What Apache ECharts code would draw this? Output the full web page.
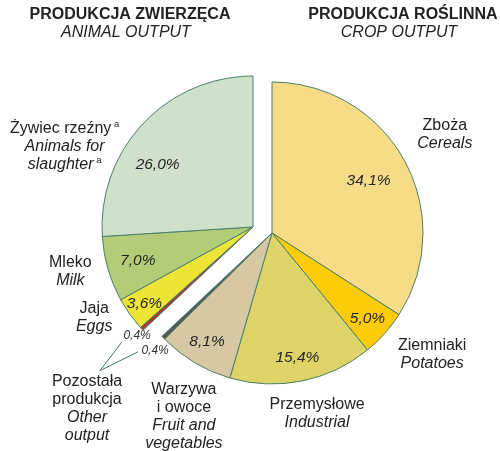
<!DOCTYPE html>
<html>
<head>
<meta charset="utf-8">
<title>Produkcja rolnicza</title>
<script src="https://cdn.jsdelivr.net/npm/echarts@6/dist/echarts.min.js"></script>
<style>
  html, body { margin: 0; padding: 0; background: #fff; }
  #chart { width: 500px; height: 451px; }
</style>
</head>
<body>
<div id="chart"></div>
<script>
  // produkcja roślinna - od góry zgodnie z ruchem wskazówek zegara
  var cropNames = ['Zboża', 'Ziemniaki', 'Przemysłowe', 'Warzywa\ni owoce', 'Pozostała\nprodukcja'];
  var cropNamesEn = ['Cereals', 'Potatoes', 'Industrial', 'Fruit and\nvegetables', 'Other\noutput'];
  var cropValues = [34.1, 5.0, 15.4, 8.1, 0.4];

  // produkcja zwierzęca
  var animalNames = ['Żywiec rzeźny', 'Mleko', 'Jaja', 'Pozostała\nprodukcja'];
  var animalNamesEn = ['Animals for\nslaughter', 'Milk', 'Eggs', 'Other\noutput'];
  var animalNotes = ['a', '', '', ''];
  var animalValues = [26.0, 7.0, 3.6, 0.4];

  var cropColors = ['#f6dc86', '#fccc08', '#dfd467', '#d7c7a2', '#525b54'];
  var animalColors = ['#cfe1cb', '#b3cc78', '#ece535', '#a23d33'];

  var FONT = '"Liberation Sans", Arial, sans-serif';
  var EDGE = '#4b7f6b';
  var R = 151;
  var cropCenter = [272, 233];
  var animalCenter = [253, 227];   // połówka odsunięta

  // polozenie etykiet [promien, poprawka kata]
  var cropPctPos = [[110, 0], [128, 0], [127, 0], [127, 0], [166, -1.3]];
  var cropNamePos = [[199, -1.1], [201, -4.6], [186, -2.5], [204, -5.2], null];
  var animalPctPos = [[114, -10], [120, 0], [133, 0], [159, -0.7]];
  var animalNamePos = [[205, -20], [188, 2.5], [183, 5.5], [246, -5.1]];

  function sum(arr) {
    return arr.reduce(function (a, b) { return a + b; }, 0);
  }
  var cropTotal = sum(cropValues);
  var animalTotal = sum(animalValues);
  var total = cropTotal + animalTotal;

  function filler(v) {
    return {
      value: v, name: '', isFiller: true,
      itemStyle: {color: 'rgba(0,0,0,0)', borderWidth: 0},
      label: {show: false}, labelLine: {show: false}
    };
  }

  // dane w kolejnosci rysowania (kat start 90, zgodnie z zegarem)
  var cropData = cropValues.map(function (v, i) {
    return {value: v, k: i, name: cropNames[i], itemStyle: {color: cropColors[i]}};
  });
  cropData.push(filler(animalTotal));

  var animalOrder = [3, 2, 1, 0];
  var animalData = [filler(cropTotal)].concat(animalOrder.map(function (k) {
    return {value: animalValues[k], k: k, name: animalNames[k], itemStyle: {color: animalColors[k]}};
  }));

  function midAngles(data) {
    var acc = 0;
    return data.map(function (d) {
      var a = (acc + d.value / 2) / total * 360;
      acc += d.value;
      return a;
    });
  }
  var cropMid = midAngles(cropData);
  var animalMid = midAngles(animalData);

  function polar(c, r, deg) {
    var a = deg * Math.PI / 180;
    return [c[0] + r * Math.sin(a), c[1] - r * Math.cos(a)];
  }

  function pctText(v) {
    return v.toFixed(1).replace('.', ',') + '%';
  }

  function nameText(pl, en, note) {
    var s = pl.split('\n').map(function (l) { return '{pl|' + l + '}'; });
    var e = en.split('\n').map(function (l) { return '{en|' + l + '}'; });
    if (note) {
      s[s.length - 1] += '{sup| ' + note + '}';
      e[e.length - 1] += '{sup| ' + note + '}';
    }
    return s.concat(e).join('\n');
  }

  var otherPos = polar(animalCenter, animalNamePos[3][0], animalMid[1] + animalNamePos[3][1]);
  var joinPoint = [otherPos[0] + 13, otherPos[1] - 38];

  function pctLayout(center, data, mids, pos, lineOffset) {
    return function (p) {
      var d = data[p.dataIndex];
      if (d.isFiller) return {};
      var ps = pos[d.k];
      var xy = polar(center, ps[0], mids[p.dataIndex] + ps[1]);
      var out = {x: xy[0], y: xy[1], align: 'center', verticalAlign: 'middle'};
      if (d.value < 1) {
        var s = [xy[0] + lineOffset[0], xy[1] + lineOffset[1]];
        out.labelLinePoints = [s, s, joinPoint];
      }
      return out;
    };
  }

  function nameLayout(center, data, mids, pos) {
    return function (p) {
      var d = data[p.dataIndex];
      if (d.isFiller || !pos[d.k]) return {};
      var xy = polar(center, pos[d.k][0], mids[p.dataIndex] + pos[d.k][1]);
      return {x: xy[0], y: xy[1], align: 'center', verticalAlign: 'middle'};
    };
  }

  var pctLabel = {
    show: true,
    position: 'inside',
    fontFamily: FONT,
    fontSize: 15.5,
    fontStyle: 'italic',
    color: '#262626',
    formatter: function (p) { return pctText(p.value); }
  };
  var smallPct = {
    label: {position: 'outside', fontSize: 12, color: '#333'},
    labelLine: {show: true, lineStyle: {color: '#3f7a70', width: 1}}
  };

  var nameRich = {
    pl: {fontFamily: FONT, fontSize: 16, color: '#222', lineHeight: 18},
    en: {fontFamily: FONT, fontSize: 16, fontStyle: 'italic', color: '#222', lineHeight: 18},
    sup: {fontFamily: FONT, fontSize: 9.5, color: '#222', lineHeight: 18, verticalAlign: 'top', padding: [0, 0, 6, 0]}
  };

  function pctData(data) {
    return data.map(function (d) {
      if (d.isFiller || d.value >= 1) return d;
      return Object.assign({}, d, smallPct);
    });
  }

  function overlayData(data) {
    return data.map(function (d) {
      return {value: d.value, k: d.k, isFiller: d.isFiller,
        itemStyle: {color: 'rgba(0,0,0,0)', borderWidth: 0}};
    });
  }

  var baseSeries = {
    type: 'pie',
    radius: R,
    startAngle: 90,
    clockwise: true,
    avoidLabelOverlap: false,
    silent: true,
    animation: false,
    emphasis: {disabled: true},
    itemStyle: {borderColor: EDGE, borderWidth: 1}
  };

  var myChart = echarts.init(document.getElementById('chart'));
  var option = {
    backgroundColor: '#fff',
    graphic: [
      {type: 'text', x: 130, y: 15, style: {text: 'PRODUKCJA ZWIERZĘCA', align: 'center', verticalAlign: 'middle', font: 'bold 16px ' + FONT, fill: '#222'}},
      {type: 'text', x: 126, y: 33, style: {text: 'ANIMAL OUTPUT', align: 'center', verticalAlign: 'middle', font: 'italic 16px ' + FONT, fill: '#222'}},
      {type: 'text', x: 403, y: 15, style: {text: 'PRODUKCJA ROŚLINNA', align: 'center', verticalAlign: 'middle', font: 'bold 16px ' + FONT, fill: '#222'}},
      {type: 'text', x: 399, y: 33, style: {text: 'CROP OUTPUT', align: 'center', verticalAlign: 'middle', font: 'italic 16px ' + FONT, fill: '#222'}}
    ],
    series: [
      Object.assign({}, baseSeries, {
        name: 'crop',
        center: cropCenter,
        label: pctLabel,
        labelLine: {show: false},
        labelLayout: pctLayout(cropCenter, cropData, cropMid, cropPctPos, [-17, 1]),
        data: pctData(cropData)
      }),
      Object.assign({}, baseSeries, {
        name: 'animal',
        center: animalCenter,
        label: pctLabel,
        labelLine: {show: false},
        labelLayout: pctLayout(animalCenter, animalData, animalMid, animalPctPos, [-15, 6]),
        data: pctData(animalData)
      }),
      Object.assign({}, baseSeries, {
        name: 'cropNames',
        center: cropCenter,
        itemStyle: {borderWidth: 0},
        label: {
          show: true, position: 'inside', rich: nameRich,
          formatter: function (p) {
            var d = cropData[p.dataIndex];
            if (d.isFiller || !cropNamePos[d.k]) return '';
            return nameText(cropNames[d.k], cropNamesEn[d.k], '');
          }
        },
        labelLine: {show: false},
        labelLayout: nameLayout(cropCenter, cropData, cropMid, cropNamePos),
        data: overlayData(cropData)
      }),
      Object.assign({}, baseSeries, {
        name: 'animalNames',
        center: animalCenter,
        itemStyle: {borderWidth: 0},
        label: {
          show: true, position: 'inside', rich: nameRich,
          formatter: function (p) {
            var d = animalData[p.dataIndex];
            if (d.isFiller) return '';
            return nameText(animalNames[d.k], animalNamesEn[d.k], animalNotes[d.k]);
          }
        },
        labelLine: {show: false},
        labelLayout: nameLayout(animalCenter, animalData, animalMid, animalNamePos),
        data: overlayData(animalData)
      })
    ]
  };

  myChart.setOption(option);
</script>
</body>
</html>
